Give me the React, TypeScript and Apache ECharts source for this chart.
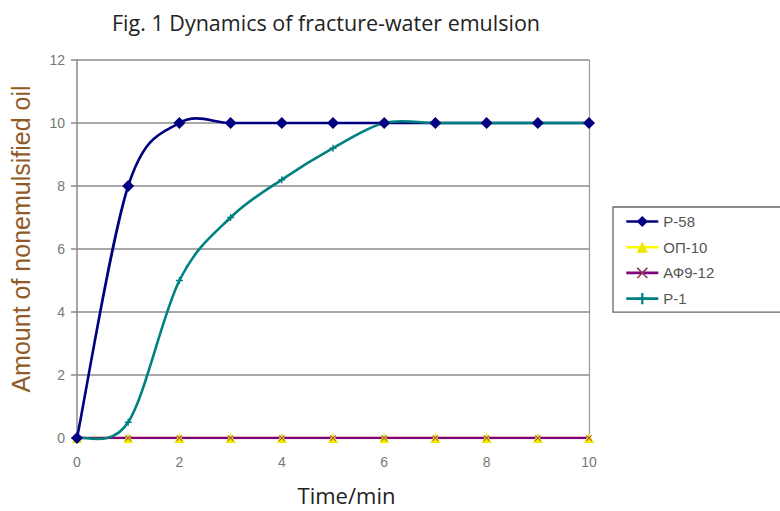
import React, { useEffect, useRef } from "react";
import * as echarts from "echarts";

const times = [0, 1, 2, 3, 4, 5, 6, 7, 8, 9, 10];
const p58 = [0, 8, 10, 10, 10, 10, 10, 10, 10, 10, 10];
const op10 = [0, 0, 0, 0, 0, 0, 0, 0, 0, 0, 0];
const af912 = [0, 0, 0, 0, 0, 0, 0, 0, 0, 0, 0];
const p1 = [0, 0.5, 5, 7, 8.2, 9.2, 10, 10, 10, 10, 10];
const yTicks = [0, 2, 4, 6, 8, 10, 12];
const xTicks = [0, 2, 4, 6, 8, 10];

const NAVY = "#000080";
const YELLOW = "#ffff00";
const PURPLE = "#800080";
const TEAL = "#008080";

const pairs = (ys: number[]) => times.map((t, i) => [t, ys[i]]);

const X_SYMBOL = "path://M0,1L1,0L5,4L9,0L10,1L6,5L10,9L9,10L5,6L1,10L0,9L4,5Z";
const PLUS_SYMBOL = "path://M4,0L6,0L6,4L10,4L10,6L6,6L6,10L4,10L4,6L0,6L0,4L4,4Z";

// Spreadsheet-style smoothed line: one cubic Bézier per segment, with
// Catmull-Rom control points (neighbour difference / 6), in pixel space.
const smoothSegment = (ys: number[], color: string) => (params: any, api: any) => {
  const i = params.dataIndex;
  const last = times.length - 1;
  if (i >= last) return null;
  const pt = (k: number) => {
    const kk = Math.max(0, Math.min(last, k));
    return api.coord([times[kk], ys[kk]]);
  };
  const a = pt(i - 1);
  const b = pt(i);
  const c = pt(i + 1);
  const d = pt(i + 2);
  return {
    type: "bezierCurve",
    shape: {
      x1: b[0],
      y1: b[1],
      x2: c[0],
      y2: c[1],
      cpx1: b[0] + (c[0] - a[0]) / 6,
      cpy1: b[1] + (c[1] - a[1]) / 6,
      cpx2: c[0] - (d[0] - b[0]) / 6,
      cpy2: c[1] - (d[1] - b[1]) / 6,
    },
    style: { stroke: color, lineWidth: 2.6, fill: null, lineCap: "round" },
  };
};

export default function App() {
  const ref = useRef<HTMLDivElement>(null);

  useEffect(() => {
    if (!ref.current) return;
    const chart = echarts.init(ref.current, null, { renderer: "svg" });
    chart.setOption({
      animation: false,
      backgroundColor: "#ffffff",
      title: {
        text: "Fig. 1 Dynamics of fracture-water emulsion",
        left: 107,
        top: 6,
        textStyle: { fontFamily: "Open Sans", fontSize: 21.5, fontWeight: "normal", color: "#222" },
      },
      legend: {
        orient: "vertical",
        left: 613,
        top: 207,
        padding: [7, 90, 6, 12],
        itemGap: 10.7,
        itemWidth: 32,
        itemHeight: 14,
        borderColor: "#666",
        borderWidth: 1.3,
        backgroundColor: "#fff",
        textStyle: { fontFamily: "Liberation Sans", fontSize: 15, lineHeight: 14, color: "#555" },
        data: [
          { name: "Р-58", lineStyle: { color: NAVY, width: 2.6, opacity: 1 } },
          { name: "ОП-10", lineStyle: { color: YELLOW, width: 2.6, opacity: 1 } },
          { name: "АФ9-12", lineStyle: { color: PURPLE, width: 2.6, opacity: 1 } },
          { name: "Р-1", lineStyle: { color: TEAL, width: 2.6, opacity: 1 } },
        ],
      },
      grid: { left: 77, right: 191, top: 60, bottom: 73, outerBoundsMode: "none" },
      xAxis: {
        type: "value",
        min: 0,
        max: 10,
        interval: 2,
        name: "Time/min",
        nameLocation: "middle",
        nameGap: 46,
        nameTextStyle: {
          fontFamily: "Open Sans",
          fontSize: 22,
          lineHeight: 22,
          color: "#222",
          padding: [0, 0, 0, 27],
        },
        axisLine: { show: true, lineStyle: { color: "#888", width: 1.5 } },
        axisTick: { show: false },
        axisLabel: {
          margin: 17,
          fontFamily: "Liberation Sans",
          fontSize: 14,
          color: "#777",
          customValues: xTicks,
        },
        splitLine: { show: false },
      },
      yAxis: [
        {
          type: "value",
          min: 0,
          max: 12,
          interval: 2,
          name: "Amount of nonemulsified oil",
          nameLocation: "middle",
          nameGap: 44,
          nameRotate: 90,
          nameTextStyle: {
            fontFamily: "Liberation Sans",
            fontSize: 25,
            color: "#8f5a26",
            padding: [0, 0, 0, 20],
          },
          axisLine: { show: true, lineStyle: { color: "#888", width: 1.5 } },
          axisTick: { show: true, length: 6, lineStyle: { color: "#888", width: 1.5 } },
          axisLabel: {
            margin: 12,
            fontFamily: "Liberation Sans",
            fontSize: 14,
            color: "#777",
            customValues: yTicks,
          },
          splitLine: { show: true, lineStyle: { color: "#8c8c8c", width: 1.6 } },
        },
        {
          type: "value",
          min: 0,
          max: 12,
          interval: 2,
          position: "right",
          axisLine: { show: true, lineStyle: { color: "#9a9a9a", width: 1.2 } },
          axisTick: { show: false },
          axisLabel: { show: false },
          splitLine: { show: false },
        },
      ],
      series: [
        {
          name: "ОП-10",
          type: "line",
          data: pairs(op10),
          symbol: "triangle",
          symbolSize: 10,
          lineStyle: { color: YELLOW, width: 2.6 },
          itemStyle: { color: "#f2e600" },
          z: 2,
        },
        {
          name: "АФ9-12",
          type: "line",
          data: pairs(af912),
          symbol: X_SYMBOL,
          symbolSize: 6,
          lineStyle: { color: PURPLE, width: 2.6 },
          itemStyle: { color: "#8a3a50" },
          z: 2,
        },
        {
          name: "Р-58 curve",
          type: "custom",
          data: pairs(p58),
          encode: { x: 0, y: 1 },
          renderItem: smoothSegment(p58, NAVY),
          z: 3,
        },
        {
          name: "Р-1 curve",
          type: "custom",
          data: pairs(p1),
          encode: { x: 0, y: 1 },
          renderItem: smoothSegment(p1, TEAL),
          z: 4,
        },
        {
          name: "Р-58",
          type: "line",
          data: pairs(p58),
          symbol: "diamond",
          symbolSize: 12,
          lineStyle: { color: NAVY, width: 0, opacity: 0 },
          itemStyle: { color: NAVY },
          z: 6,
        },
        {
          name: "Р-1",
          type: "line",
          data: pairs(p1),
          symbol: PLUS_SYMBOL,
          symbolSize: 7,
          lineStyle: { color: TEAL, width: 0, opacity: 0 },
          itemStyle: { color: TEAL },
          z: 5,
        },
      ],
    });
    return () => chart.dispose();
  }, []);

  return <div ref={ref} style={{ width: 780, height: 511, position: "absolute", left: 0, top: 0 }} />;
}
